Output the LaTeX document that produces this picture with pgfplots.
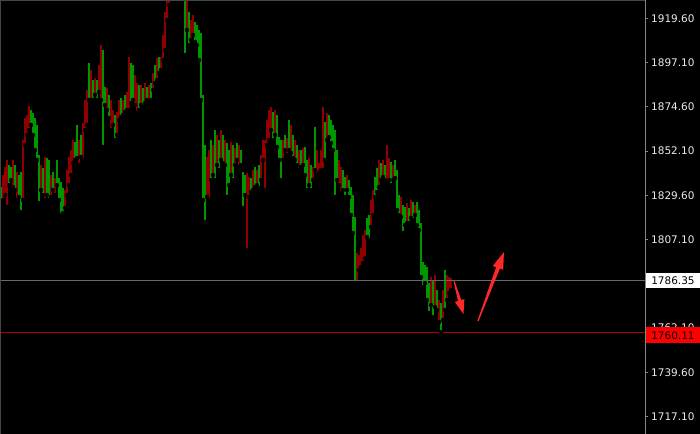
\documentclass[border=0pt]{standalone}
\usepackage{fontspec}
\setmainfont{DejaVu Sans}
\usepackage{pgfplots}
\usepackage{pgfplotstable}
\pgfplotsset{compat=1.18}

\definecolor{bullc}{RGB}{0,150,0}
\definecolor{bearc}{RGB}{145,0,0}
\definecolor{axgray}{RGB}{135,135,135}
\definecolor{frame}{RGB}{70,70,70}
\definecolor{lvlgray}{RGB}{100,105,112}
\definecolor{lvlred}{RGB}{175,0,0}
\definecolor{tagred}{RGB}{255,0,0}
\definecolor{arrowred}{RGB}{255,40,40}
\definecolor{ticktext}{RGB}{235,235,235}

% rising bars: index, low, high
\pgfplotstableread{
i lo hi
0 1825.7 1833.8
4 1834.8 1845.0
5 1837.4 1844.0
7 1832.3 1845.0
9 1828.8 1839.9
10 1821.1 1841.5
15 1865.4 1873.0
16 1860.3 1871.5
17 1852.6 1868.9
18 1847.6 1865.4
19 1825.7 1850.1
21 1829.8 1843.5
23 1829.8 1848.6
24 1827.2 1847.6
26 1832.3 1841.5
28 1834.8 1847.6
29 1827.2 1838.4
30 1819.6 1836.4
31 1820.6 1833.3
37 1847.6 1856.7
38 1848.6 1865.4
40 1849.1 1860.3
44 1878.1 1896.9
46 1878.1 1888.2
48 1878.1 1888.2
51 1854.2 1903.5
52 1875.5 1884.7
54 1868.9 1880.6
57 1857.7 1870.4
60 1869.4 1879.1
62 1872.0 1880.6
65 1876.5 1896.9
66 1878.1 1895.9
69 1873.0 1885.7
71 1874.5 1884.2
73 1878.1 1884.7
75 1878.1 1886.7
77 1886.7 1895.9
79 1891.8 1899.9
85 1930.4 1944.2
87 1931.4 1941.6
89 1930.9 1939.1
91 1929.9 1935.0
92 1900.9 1930.5
94 1906.0 1922.8
97 1907.6 1917.7
98 1906.0 1916.2
99 1898.4 1913.6
100 1878.1 1912.1
101 1827.2 1880.6
102 1816.0 1855.2
105 1837.4 1857.7
107 1837.4 1862.8
109 1842.5 1857.7
111 1846.0 1860.3
113 1828.8 1856.2
114 1834.8 1852.6
116 1837.4 1855.2
118 1847.6 1856.2
120 1845.0 1852.6
121 1823.2 1841.5
122 1829.8 1839.9
125 1831.3 1838.4
127 1833.8 1844.0
129 1833.3 1845.0
136 1857.7 1872.0
138 1854.2 1870.4
139 1847.6 1859.2
140 1837.4 1857.7
142 1852.6 1860.3
144 1852.6 1867.9
146 1848.6 1860.3
148 1845.0 1855.2
150 1844.0 1852.6
152 1839.9 1854.2
153 1832.3 1847.6
155 1832.3 1845.0
157 1842.5 1864.3
162 1847.6 1866.9
164 1859.2 1870.4
165 1856.2 1867.9
166 1852.6 1865.4
167 1828.8 1862.8
168 1837.4 1852.6
171 1832.3 1842.5
172 1828.8 1838.9
174 1828.8 1837.4
175 1819.6 1833.8
176 1810.4 1829.8
177 1785.0 1818.6
183 1808.4 1818.1
184 1806.9 1819.6
187 1828.8 1838.9
188 1831.3 1843.5
190 1837.4 1846.0
192 1837.4 1845.0
195 1834.8 1846.5
197 1838.4 1847.6
198 1822.1 1842.5
199 1819.6 1829.8
201 1810.4 1824.7
202 1814.5 1823.7
204 1815.5 1823.2
206 1817.1 1826.2
208 1814.5 1826.2
209 1812.0 1822.1
210 1788.1 1815.5
211 1783.0 1795.7
212 1785.0 1794.2
213 1776.4 1793.2
214 1769.8 1785.0
216 1767.7 1786.6
218 1771.3 1781.5
220 1760.11 1774.9
222 1771.3 1791.6
}\bull

% falling bars: index, low, high
\pgfplotstableread{
i lo hi
1 1827.2 1839.9
2 1829.8 1844.0
3 1823.7 1847.6
6 1833.8 1847.6
8 1827.2 1841.5
11 1827.2 1857.7
12 1855.2 1868.9
13 1860.3 1870.4
14 1862.8 1875.0
20 1832.3 1845.0
22 1827.2 1849.1
25 1828.8 1839.9
27 1829.8 1838.4
32 1823.2 1832.3
33 1829.8 1842.5
34 1834.8 1849.1
35 1839.9 1852.6
36 1846.0 1857.7
39 1845.0 1857.7
41 1847.6 1866.4
42 1862.8 1878.1
43 1865.4 1883.2
45 1878.1 1893.3
47 1880.6 1889.2
49 1882.1 1895.9
50 1878.1 1906.0
53 1873.0 1884.2
55 1862.8 1878.1
56 1865.4 1873.0
58 1860.3 1872.0
59 1867.9 1878.1
61 1870.4 1878.1
63 1873.0 1882.1
64 1873.0 1899.9
67 1875.5 1890.8
68 1871.5 1886.7
70 1875.5 1885.7
72 1876.5 1886.7
74 1876.5 1885.7
76 1883.2 1891.8
78 1888.2 1899.4
80 1893.3 1899.9
81 1898.4 1911.1
82 1903.5 1922.8
83 1918.7 1931.4
84 1926.4 1934.0
86 1933.0 1946.7
88 1933.0 1944.2
90 1930.4 1936.5
93 1913.6 1929.9
95 1908.6 1918.7
96 1911.1 1921.3
103 1828.8 1849.1
104 1827.2 1852.6
106 1839.9 1855.2
108 1845.0 1860.3
110 1847.6 1862.8
112 1845.0 1857.7
115 1839.9 1856.7
117 1845.0 1853.7
119 1844.0 1855.2
123 1801.8 1840.9
124 1828.8 1838.9
126 1832.3 1842.5
128 1834.8 1842.5
130 1837.4 1850.1
131 1847.6 1857.7
132 1832.3 1857.7
133 1855.2 1867.9
134 1857.7 1873.0
135 1862.8 1874.5
137 1860.3 1873.0
141 1847.6 1857.7
143 1850.1 1858.7
145 1851.1 1865.4
147 1847.6 1857.7
149 1842.5 1852.6
151 1845.0 1853.7
154 1834.8 1848.6
156 1837.4 1844.0
158 1839.9 1852.6
159 1840.9 1846.0
160 1842.5 1852.6
161 1842.5 1874.5
163 1857.7 1871.5
169 1834.8 1847.6
170 1830.8 1844.0
173 1832.3 1839.9
178 1785.0 1800.3
179 1791.6 1799.3
180 1793.2 1802.8
181 1795.2 1809.4
182 1797.7 1812.0
185 1813.5 1827.2
186 1819.6 1832.3
189 1833.8 1847.6
191 1838.9 1847.6
193 1835.9 1855.2
194 1837.4 1848.6
196 1837.4 1845.0
200 1818.6 1828.8
203 1815.5 1825.7
205 1818.1 1827.2
207 1819.6 1824.7
215 1773.8 1788.1
217 1772.8 1789.1
219 1765.2 1776.4
221 1766.2 1781.5
223 1776.4 1789.1
224 1779.9 1788.1
225 1781.5 1787.6
}\bear

\newcommand{\lblfont}{\fontsize{10.5}{12}\selectfont}

\begin{document}
\begin{tikzpicture}
% chart background
\fill[black] (0,0) rectangle (700bp,434bp);

\begin{axis}[
  at={(0,0)}, anchor=south west,
  scale only axis, width=645bp, height=434bp,
  xmin=-0.5, xmax=322, ymin=1708.3, ymax=1928.9,
  axis line style={draw=none},
  xtick=\empty,
  ytick={1717.1,1739.6,1762.1,1784.6,1807.1,1829.6,1852.1,1874.6,1897.1,1919.6},
  ytick pos=right, yticklabel pos=right,
  tick align=outside, major tick length=3bp,
  y tick style={color=axgray, line width=0.8bp},
  yticklabel style={font=\lblfont, text=ticktext, anchor=west, inner sep=0pt, xshift=3bp},
  /pgf/number format/.cd, fixed, fixed zerofill, precision=2, 1000 sep={}, assume math mode=true,
]
% price bars as low-to-high strokes
\addplot[only marks, mark=none,
  error bars/.cd, y dir=plus, y explicit, error mark=none,
  error bar style={line width=2bp, draw=bullc}]
  table[x=i, y=lo, y error expr=\thisrow{hi}-\thisrow{lo}] {\bull};
\addplot[only marks, mark=none,
  error bars/.cd, y dir=plus, y explicit, error mark=none,
  error bar style={line width=2bp, draw=bearc}]
  table[x=i, y=lo, y error expr=\thisrow{hi}-\thisrow{lo}] {\bear};

% horizontal levels
\addplot[lvlgray, line width=1bp] coordinates {(-0.5,1786.35) (322,1786.35)};
\addplot[lvlred, line width=1bp] coordinates {(-0.5,1760.11) (322,1760.11)};

\coordinate (gl) at (axis cs:322,1786.35);
\coordinate (rl) at (axis cs:322,1760.11);
\end{axis}

% frame and price scale line
\draw[frame, line width=1bp] (0.5bp,0) -- (0.5bp,433.5bp) -- (645bp,433.5bp);
\draw[axgray, line width=1bp] (645bp,0) -- (645bp,434bp);

% level tags on the price scale
\node[fill=white, text=black, font=\lblfont, anchor=west, inner sep=0pt,
  minimum width=54.5bp, minimum height=14.5bp] at ([xshift=0.5bp]gl) {1786.35};
\node[fill=tagred, text=black, font=\lblfont, anchor=west, inner sep=0pt,
  minimum width=54.5bp, minimum height=16bp] at ([xshift=0.5bp, yshift=-3.3bp]rl) {1760.11};

% arrows
\fill[arrowred] (453.5bp,152.9bp) -- (458.0bp,133.0bp) -- (454.8bp,132.1bp)
  -- (463.5bp,120bp) -- (464.4bp,134.9bp) -- (461.2bp,134.0bp) -- (454.5bp,153.1bp) -- cycle;
\fill[arrowred] (477.44bp,113.21bp) -- (496.13bp,166.81bp) -- (492.85bp,168.04bp)
  -- (504bp,182bp) -- (503.15bp,164.16bp) -- (499.87bp,165.39bp) -- (478.56bp,112.79bp) -- cycle;

\pgfresetboundingbox
\path[use as bounding box] (0,0) rectangle (700bp,434bp);
\end{tikzpicture}
\end{document}
